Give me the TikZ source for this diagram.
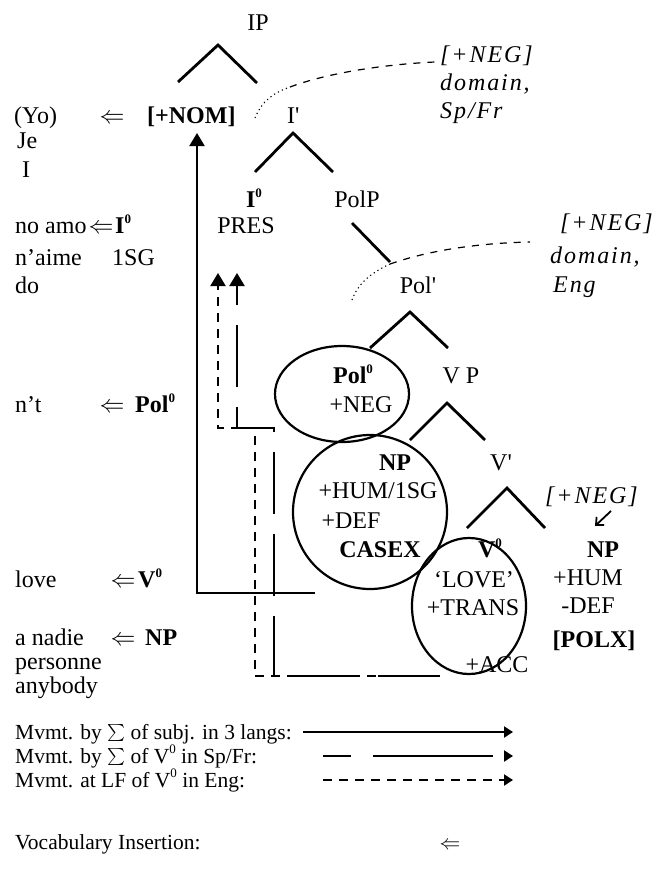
\documentclass[tikz,border=0pt]{standalone}
\usepackage{amsmath}
\usepackage{graphicx}
\usepackage{fontspec}
\setmainfont{Liberation Serif}[Ligatures=TeXOff]
\newfontfamily\spit{Liberation Serif}[Ligatures=TeXOff,LetterSpace=8]
\newcommand\zsup{\raisebox{10pt}{\fontsize{13}{13}\selectfont 0}}
\newcommand\smallsum{\raisebox{1.5pt}{\scalebox{0.82}{$\sum$}}}
\usetikzlibrary{arrows.meta}
\begin{document}
\begin{tikzpicture}[x=1pt,y=-1pt,font=\fontsize{24}{28}\selectfont,
  txt/.style={anchor=base west,inner sep=0pt},
  ctxt/.style={anchor=base,inner sep=0pt},
  legtxt/.style={anchor=base west,inner sep=0pt,font=\fontsize{21.5}{26}\selectfont},
  itx/.style={anchor=base west,inner sep=0pt,font=\fontsize{24}{28}\spit\itshape},
  tri/.style={line width=2.8pt,line join=miter},
  ell/.style={line width=2.2pt},
  dotc/.style={line width=1.1pt,dash pattern=on 1.2pt off 3.2pt},
  dashc/.style={line width=1.2pt,dash pattern=on 7pt off 7pt},
  subj/.style={line width=2.1pt,-{Triangle[width=15pt,length=13pt]}},
  spfr/.style={line width=2.1pt,dash pattern=on 62pt off 20pt,-{Triangle[width=15pt,length=13pt]}},
  eng/.style={line width=2.1pt,dash pattern=on 9pt off 7pt,-{Triangle[width=15pt,length=13pt]}},
  leg/.style={line width=2.1pt,-{Triangle[width=11pt,length=9pt]}}]
\useasboundingbox (0,0) rectangle (652,886);

% ---------- tree ----------
\node[ctxt] (IP) at (258,30) {IP};
\coordinate (ipA) at (218,45); \coordinate (ipL) at (178,82); \coordinate (ipR) at (257,83);
\draw[tri] (ipL) -- (ipA) -- (ipR);

\node[txt] (yo) at (14,123) {(Yo)};
\node[ctxt] (vi1) at (112,123) {$\Leftarrow$};
\node[txt] (nom) at (147,123) {\textbf{[+NOM]}};
\node[txt] (Ibar) at (287,123) {I'};
\node[txt] (je) at (17,148) {Je};
\node[txt] (ieng) at (22,177) {I};

\coordinate (ibA) at (293,133); \coordinate (ibL) at (255,172); \coordinate (ibR) at (333,172);
\draw[tri] (ibL) -- (ibA) -- (ibR);

\node[ctxt] (I0) at (254,207) {\textbf{I\zsup}};
\node[ctxt] (PRES) at (246,233) {PRES};
\node[ctxt] (PolP) at (357,207) {PolP};

\node[txt] (noamo) at (15,233) {no amo};
\node[ctxt] (vi2) at (101,233) {$\Leftarrow$};
\node[txt] (I0l) at (115,233) {\textbf{I\zsup}};
\node[txt] (naime) at (15,265) {n’aime};
\node[txt] (sg) at (112,265) {1SG};
\node[txt] (do) at (15,293) {do};

% [+NEG] domain Sp/Fr
\node[itx] (neg1) at (440,62) {[+NEG]};
\node[itx] (dom1) at (440,90) {domain,};
\node[itx] (spfr) at (440,118) {Sp/Fr};
\coordinate (c1a) at (255,118); \coordinate (c1b) at (290,87); \coordinate (c1c) at (435,62);
\draw[dotc] (c1a) .. controls (262,101) and (273,93) .. (c1b);
\draw[dashc] (c1b) .. controls (330,72) and (390,64) .. (c1c);

% PolP -> Pol'
\coordinate (pp1) at (352,223); \coordinate (pp2) at (390,262);
\draw[tri] (pp1) -- (pp2);
\node[ctxt] (Polbar) at (418,293) {Pol'};

\node[itx] (neg2) at (560,230) {[+NEG]};
\node[itx] (dom2) at (550,263) {domain,};
\node[itx] (engl) at (553,292) {Eng};
\coordinate (c2a) at (352,300); \coordinate (c2b) at (390,264); \coordinate (c2c) at (530,242);
\draw[dotc] (c2a) .. controls (358,284) and (369,274) .. (c2b);
\draw[dashc] (c2b) .. controls (430,250) and (480,243) .. (c2c);

\coordinate (pbA) at (410,312); \coordinate (pbL) at (370,348); \coordinate (pbR) at (448,348);
\draw[tri] (pbL) -- (pbA) -- (pbR);

\draw[ell] (342,394) ellipse [x radius=67pt,y radius=48pt];
\node[ctxt] (Pol0) at (353,383) {\textbf{Pol\zsup}};
\node[ctxt] (negf) at (361,412) {+NEG};
\node[ctxt] (VP) at (461,383) {V P};

\coordinate (vpA) at (447,403); \coordinate (vpL) at (410,440); \coordinate (vpR) at (485,440);
\draw[tri] (vpL) -- (vpA) -- (vpR);

\draw[ell] (370,512) circle [radius=77pt];
\node[ctxt] (NPs) at (395,470) {\textbf{NP}};
\node[ctxt] (hum) at (378,498) {+HUM/1SG};
\node[ctxt] (def) at (351,528) {+DEF};
\node[ctxt] (casex) at (380,557) {\textbf{CASEX}};
\node[ctxt] (Vbar) at (501,470) {V'};

\coordinate (vbA) at (507,488); \coordinate (vbL) at (467,528); \coordinate (vbR) at (545,528);
\draw[tri] (vbL) -- (vbA) -- (vbR);

\node[itx] (neg3) at (545,503) {[+NEG]};
\coordinate (na1) at (611,511); \coordinate (na2) at (595,526);
\draw[line width=1.8pt,-{Straight Barb[length=6pt,width=11pt]}] (na1) -- (na2);
\node[ctxt] (NPo) at (603,557) {\textbf{NP}};
\node[ctxt] (humo) at (588,585) {+HUM};
\node[ctxt] (defo) at (588,613) {-DEF};
\node[ctxt] (polx) at (594,647) {\textbf{[POLX]}};

\draw[ell] (469,606) ellipse [x radius=57pt,y radius=68pt];
\node[ctxt] (V0) at (490,557) {\textbf{V\zsup}};
\node[ctxt] (lov) at (474,587) {‘LOVE’};
\node[ctxt] (trans) at (473,615) {+TRANS};
\node[ctxt] (acc) at (497,672) {+ACC};

% left column lower
\node[txt] (nt) at (15,412) {n’t};
\node[ctxt] (vi3) at (112,412) {$\Leftarrow$};
\node[txt] (Pol0l) at (135,412) {\textbf{Pol\zsup}};
\node[txt] (lovel) at (15,587) {love};
\node[ctxt] (vi4) at (123,587) {$\Leftarrow$};
\node[txt] (V0l) at (138,587) {\textbf{V\zsup}};
\node[txt] (anadie) at (15,645) {a nadie};
\node[ctxt] (vi5) at (123,645) {$\Leftarrow$};
\node[txt] (NPl) at (145,645) {\textbf{NP}};
\node[txt] (pers) at (15,669) {personne};
\node[txt] (anyb) at (15,693) {anybody};

% ---------- movement ----------
\coordinate (s0) at (315,593); \coordinate (s1) at (197,593); \coordinate (s2) at (197,133);
\draw[subj] (s0) -- (s1) -- (s2);

\coordinate (f0) at (440,676); \coordinate (f1) at (274,676); \coordinate (f2) at (274,428);
\coordinate (f3) at (237,428); \coordinate (f4) at (237,273);
\draw[spfr] (f0) -- (f1) -- (f2) -- (f3) -- (f4);

\coordinate (e0) at (440,676); \coordinate (e1) at (255,676); \coordinate (e2) at (255,428);
\coordinate (e3) at (218,428); \coordinate (e4) at (218,273);
\draw[eng] (e0) -- (e1) -- (e2) -- (e3) -- (e4);

% ---------- legend ----------
\node[legtxt] (m1) at (15,739) {Mvmt. by \smallsum\ of subj. in 3 langs:};
\node[legtxt] (m2) at (15,763) {Mvmt. by \smallsum\ of V\zsup\ in Sp/Fr:};
\node[legtxt] (m3) at (15,787) {Mvmt. at LF of V\zsup\ in Eng:};
\node[legtxt] (voc) at (15,849) {Vocabulary Insertion:};
\node[ctxt,font=\fontsize{22}{26}\selectfont] (vocarr) at (450,849) {$\Leftarrow$};

\coordinate (l1a) at (303,732); \coordinate (l1b) at (513,732);
\draw[leg] (l1a) -- (l1b);
\coordinate (l2a) at (323,756); \coordinate (l2b) at (513,756);
\draw[leg,dash pattern=on 28pt off 22pt on 120pt off 12pt] (l2a) -- (l2b);
\coordinate (l3a) at (323,780); \coordinate (l3b) at (513,780);
\draw[leg,dash pattern=on 9pt off 7pt] (l3a) -- (l3b);
\end{tikzpicture}
\end{document}
